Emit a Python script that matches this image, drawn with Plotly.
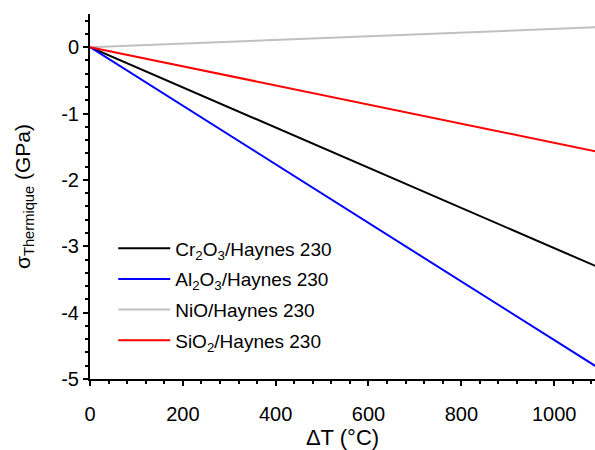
import plotly.graph_objects as go

delta_T = [0, 1090]
series_names = ["Cr<sub>2</sub>O<sub>3</sub>/Haynes 230",
                "Al<sub>2</sub>O<sub>3</sub>/Haynes 230",
                "NiO/Haynes 230",
                "SiO<sub>2</sub>/Haynes 230"]
cr2o3 = [0, -3.30]
al2o3 = [0, -4.81]
nio = [0, 0.30]
sio2 = [0, -1.57]
colors = ["#000000", "#0000ff", "#c0c0c0", "#ff0000"]
y_ticks = [0, -1, -2, -3, -4, -5]
x_ticks = [0, 200, 400, 600, 800, 1000]

FAMILY = "Liberation Sans, Arial, sans-serif"

fig = go.Figure()
for i, (name, ys, c) in enumerate(zip(series_names, [cr2o3, al2o3, nio, sio2], colors)):
    fig.add_trace(go.Scatter(x=delta_T, y=ys, mode="lines", name=name,
                             legendgroup=f"g{i}",
                             line=dict(color=c, width=2)))

fig.update_layout(
    width=595, height=450,
    margin=dict(l=90, r=0, t=14, b=71, autoexpand=False),
    paper_bgcolor="white", plot_bgcolor="white",
    font=dict(family=FAMILY, size=20, color="black"),
    showlegend=True,
    legend=dict(x=0.046, y=0.41, xanchor="left", yanchor="top",
                bgcolor="rgba(0,0,0,0)", font=dict(family=FAMILY, size=19, color="black"),
                tracegroupgap=3, itemwidth=52),
    xaxis=dict(range=[0, 1088], showgrid=False, zeroline=False,
               showline=True, linecolor="black", linewidth=2,
               ticks="outside", ticklen=5, tickwidth=2, tickcolor="black",
               tickvals=x_ticks, ticktext=[str(v) for v in x_ticks],
               ticklabelstandoff=11,
               minor=dict(ticks="outside", ticklen=3, tickwidth=1.5, dtick=40, tickcolor="black"),
               title=dict(text="ΔT (°C)", standoff=15,
                          font=dict(family=FAMILY, size=22, color="black"))),
    yaxis=dict(range=[-5, 0.5], showgrid=False, zeroline=False,
               showline=True, linecolor="black", linewidth=2,
               ticks="outside", ticklen=5, tickwidth=2, tickcolor="black",
               tickvals=y_ticks, ticktext=[str(v) for v in y_ticks],
               minor=dict(ticks="outside", ticklen=3, tickwidth=1.5, dtick=0.2, tickcolor="black"),
               title=dict(text="σ<sub>Thermique</sub> (GPa)", standoff=25,
                          font=dict(family=FAMILY, size=21, color="black"))),
)

fig.write_html("out.html", config={"displayModeBar": False},
               post_script="document.body.style.margin='0';document.body.style.overflow='hidden';")
